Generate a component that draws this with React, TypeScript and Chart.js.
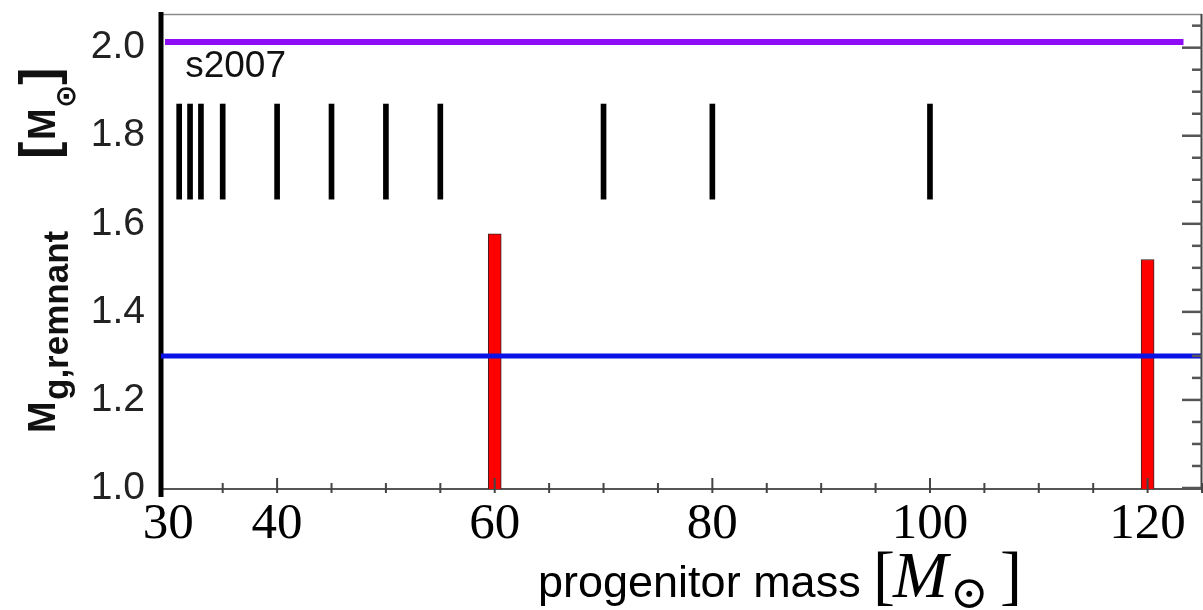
import React, { useEffect, useRef } from 'react';
import { Chart, registerables } from 'chart.js';

Chart.register(...registerables);

// ---- data ----
const xMin = 29.33;
const xMax = 125;
const yMin = 0.9977;
const yMax = 2.0765;

// progenitor masses marked with black tick marks (s2007 set)
const markerMasses = [31, 32, 33, 35, 40, 45, 50, 55, 70, 80, 100];
const markerLow = 1.656;
const markerHigh = 1.872;

// progenitor masses with a neutron-star remnant (red bars)
const nsMasses = [60, 120];
const nsRemnants = [1.577, 1.519];

// reference lines
const maxNsMass = 2.013; // purple
const maxNsRange = [29.7, 123.3];
const canonicalNs = 1.3; // blue
const canonicalRange = [29.33, 125];

// axis ticks
const xTickValues = [30, 35, 40, 45, 50, 55, 60, 65, 70, 75, 80, 85, 90, 95, 100, 105, 110, 115, 120, 125];
const xLabelValues = [30, 40, 60, 80, 100, 120];
const yTickValues = [1.0, 1.2, 1.4, 1.6, 1.8, 2.0];
const yMinorValues = [1.0, 1.05, 1.1, 1.15, 1.2, 1.25, 1.3, 1.35, 1.4, 1.45, 1.5, 1.55, 1.6, 1.65, 1.7, 1.75, 1.8, 1.85, 1.9, 1.95, 2.0, 2.05];

const modelLabel = 's2007';
const modelLabelPos = { x: 31.55, y: 1.933 };

const framePlugin = {
  id: 'framePlugin',
  beforeDatasetsDraw(chart: any) {
    const { ctx, chartArea } = chart;
    const { left, right, top, bottom } = chartArea;
    ctx.save();
    // top border
    ctx.strokeStyle = '#8a8a8a';
    ctx.lineWidth = 1.5;
    ctx.beginPath();
    ctx.moveTo(left, top + 0.5);
    ctx.lineTo(right, top + 0.5);
    ctx.stroke();
    // bottom axis
    ctx.strokeStyle = '#555';
    ctx.lineWidth = 2;
    ctx.beginPath();
    ctx.moveTo(left, bottom);
    ctx.lineTo(right, bottom);
    ctx.stroke();
    // left thick axis
    ctx.strokeStyle = '#000';
    ctx.lineWidth = 5;
    ctx.beginPath();
    ctx.moveTo(left, top - 2);
    ctx.lineTo(left, bottom + 8);
    ctx.stroke();
    ctx.restore();
  },
  afterDatasetsDraw(chart: any) {
    const { ctx, chartArea, scales } = chart;
    const { right, top, bottom } = chartArea;
    const xs = scales.x;
    const ys = scales.y;
    ctx.save();
    // right border
    ctx.strokeStyle = '#444';
    ctx.lineWidth = 2;
    ctx.beginPath();
    ctx.moveTo(right - 0.5, top);
    ctx.lineTo(right - 0.5, bottom);
    ctx.stroke();
    // right ticks
    ctx.strokeStyle = '#555';
    ctx.lineWidth = 2.5;
    yMinorValues.forEach((v) => {
      const py = ys.getPixelForValue(v);
      const major = yTickValues.some((t) => Math.abs(t - v) < 1e-6);
      const len = major ? 20 : 10;
      ctx.beginPath();
      ctx.moveTo(right, py);
      ctx.lineTo(right - len, py);
      ctx.stroke();
    });
    // bottom ticks
    ctx.strokeStyle = '#444';
    ctx.lineWidth = 2;
    xTickValues.forEach((v) => {
      if (v <= 30) return;
      const px = xs.getPixelForValue(v);
      const major = xLabelValues.includes(v);
      ctx.beginPath();
      ctx.moveTo(px, bottom + 4);
      ctx.lineTo(px, bottom - (major ? 11 : 6));
      ctx.stroke();
    });
    // model label
    ctx.fillStyle = '#111';
    ctx.font = '37px "Liberation Sans", Arial, sans-serif';
    ctx.textAlign = 'left';
    ctx.textBaseline = 'alphabetic';
    ctx.fillText(modelLabel, xs.getPixelForValue(modelLabelPos.x), ys.getPixelForValue(modelLabelPos.y));
    ctx.restore();
  },
  afterDraw(chart: any) {
    const { ctx } = chart;
    ctx.save();
    ctx.textAlign = 'left';
    ctx.textBaseline = 'alphabetic';
    // ---- y title (rotated) ----
    ctx.save();
    ctx.translate(0, 433);
    ctx.rotate(-Math.PI / 2);
    ctx.fillStyle = '#111';
    ctx.font = 'bold 38px "Liberation Sans", Arial, sans-serif';
    ctx.fillText('M', 0, 55);
    ctx.font = 'bold 35px "Liberation Sans", Arial, sans-serif';
    ctx.fillText('g,remnant', 33, 68);
    ctx.font = 'bold 52px "Liberation Sans", Arial, sans-serif';
    ctx.fillText('[', 274, 56);
    ctx.font = 'bold 38px "Liberation Sans", Arial, sans-serif';
    ctx.fillText('M', 293, 55);
    ctx.font = 'bold 28px "DejaVu Sans", sans-serif';
    ctx.fillText('\u2299', 325, 75);
    ctx.font = 'bold 52px "Liberation Sans", Arial, sans-serif';
    ctx.fillText(']', 348, 56);
    ctx.restore();
    // ---- x title ----
    ctx.fillStyle = '#000';
    ctx.font = '45px "Liberation Sans", Arial, sans-serif';
    ctx.fillText('progenitor mass', 538, 597);
    ctx.font = '66px "Liberation Serif", serif';
    ctx.fillText('[', 873, 597);
    ctx.font = 'italic 66px "Liberation Serif", serif';
    ctx.fillText('M', 893, 597);
    ctx.font = '46px "DejaVu Serif", serif';
    ctx.fillText('\u2299', 950, 608);
    ctx.font = '66px "Liberation Serif", serif';
    ctx.fillText(']', 1000, 597);
    ctx.restore();
  },
};

export default function App() {
  const canvasRef = useRef<HTMLCanvasElement | null>(null);

  useEffect(() => {
    const canvas = canvasRef.current;
    if (!canvas) return;
    const chart = new Chart(canvas, {
      type: 'bar',
      data: {
        datasets: [
          {
            type: 'line',
            data: [
              { x: maxNsRange[0], y: maxNsMass },
              { x: maxNsRange[1], y: maxNsMass },
            ],
            borderColor: '#8e0cf6',
            borderWidth: 6,
            pointRadius: 0,
            borderCapStyle: 'butt',
          } as any,
          {
            type: 'line',
            data: [
              { x: canonicalRange[0], y: canonicalNs },
              { x: canonicalRange[1], y: canonicalNs },
            ],
            borderColor: '#0b12e6',
            borderWidth: 5,
            pointRadius: 0,
          } as any,
          {
            type: 'bar',
            data: markerMasses.map((m) => ({ x: m, y: [markerLow, markerHigh] })),
            backgroundColor: '#000',
            borderWidth: 0,
            barThickness: 5,
            grouped: false,
          } as any,
          {
            type: 'bar',
            data: nsMasses.map((m, i) => ({ x: m, y: [yMin, nsRemnants[i]] })),
            backgroundColor: '#ff0000',
            borderColor: '#3a2020',
            borderWidth: 1,
            borderSkipped: 'bottom',
            barThickness: 13,
            grouped: false,
          } as any,
        ],
      },
      options: {
        responsive: false,
        animation: false,
        devicePixelRatio: 1,
        layout: { padding: { top: 14, right: 1, left: 0, bottom: 0 } },
        plugins: { legend: { display: false }, tooltip: { enabled: false } },
        scales: {
          x: {
            type: 'linear',
            offset: false,
            min: xMin,
            max: xMax,
            afterBuildTicks: (scale: any) => {
              scale.ticks = xTickValues.map((v) => ({ value: v }));
            },
            afterFit: (scale: any) => {
              scale.height = 121;
              scale.paddingLeft = 0;
              scale.paddingRight = 0;
            },
            ticks: {
              autoSkip: false,
              maxRotation: 0,
              minRotation: 0,
              padding: 5,
              color: '#000',
              font: { family: '"Liberation Serif", serif', size: 51 },
              callback: (v: any) => (xLabelValues.includes(Number(v)) ? String(v) : ''),
            },
            grid: { display: false, drawTicks: false, offset: false },
            border: { display: false },
          },
          y: {
            type: 'linear',
            min: yMin,
            max: yMax,
            afterBuildTicks: (scale: any) => {
              scale.ticks = yTickValues.map((v) => ({ value: v }));
            },
            afterFit: (scale: any) => {
              scale.width = 161;
              scale.paddingTop = 0;
              scale.paddingBottom = 0;
            },
            ticks: {
              padding: 16,
              color: '#222',
              font: { family: '"Liberation Sans", Arial, sans-serif', size: 39 },
              callback: (v: any) => Number(v).toFixed(1),
            },
            grid: { display: false, drawTicks: false },
            border: { display: false },
          },
        },
      } as any,
      plugins: [framePlugin],
    });
    return () => chart.destroy();
  }, []);

  return (
    <div style={{ position: 'absolute', left: 0, top: 0, width: 1203, height: 610, background: '#fff' }}>
      <canvas ref={canvasRef} width={1203} height={610} style={{ display: 'block' }} />
    </div>
  );
}
